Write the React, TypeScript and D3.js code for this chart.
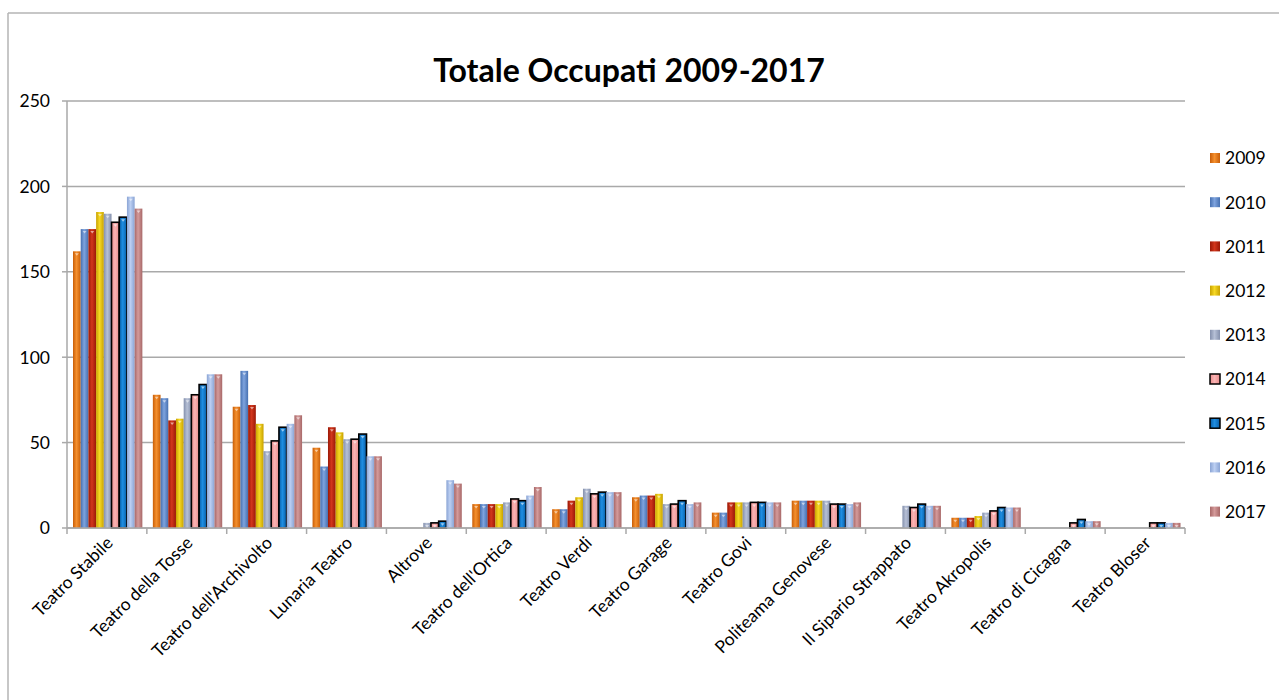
import React from "react";
import * as d3 from "d3";

const categories = [
  "Teatro Stabile",
  "Teatro della Tosse",
  "Teatro dell'Archivolto",
  "Lunaria Teatro",
  "Altrove",
  "Teatro dell'Ortica",
  "Teatro Verdi",
  "Teatro Garage",
  "Teatro Govi",
  "Politeama Genovese",
  "Il Sipario Strappato",
  "Teatro Akropolis",
  "Teatro di Cicagna",
  "Teatro Bloser",
];

const years = ["2009", "2010", "2011", "2012", "2013", "2014", "2015", "2016", "2017"];

const v2009 = [162, 78, 71, 47, 0, 14, 11, 18, 9, 16, 0, 6, 0, 0];
const v2010 = [175, 76, 92, 36, 0, 14, 11, 19, 9, 16, 0, 6, 0, 0];
const v2011 = [175, 63, 72, 59, 0, 14, 16, 19, 15, 16, 0, 6, 0, 0];
const v2012 = [185, 64, 61, 56, 0, 14, 18, 20, 15, 16, 0, 7, 0, 0];
const v2013 = [184, 76, 45, 52, 3, 15, 23, 14, 15, 16, 13, 9, 0, 0];
const v2014 = [179, 78, 51, 52, 3, 17, 20, 14, 15, 14, 12, 10, 3, 3];
const v2015 = [182, 84, 59, 55, 4, 16, 21, 16, 15, 14, 14, 12, 5, 3];
const v2016 = [194, 90, 61, 42, 28, 19, 21, 14, 15, 14, 13, 12, 4, 3];
const v2017 = [187, 90, 66, 42, 26, 24, 21, 15, 15, 15, 13, 12, 4, 3];

const seriesValues = [v2009, v2010, v2011, v2012, v2013, v2014, v2015, v2016, v2017];

const yTicks = [0, 50, 100, 150, 200, 250];

const fills = [
  ["#c85e08", "#f5902e"],
  ["#4670b0", "#7ea3de"],
  ["#9a1806", "#d2361c"],
  ["#c8a200", "#f6d824"],
  ["#8490ac", "#b6c0d6"],
  ["#e88c8c", "#fbb4b4"],
  ["#075ea8", "#1f8ee2"],
  ["#8aa4d4", "#bccff2"],
  ["#a86868", "#d49a9a"],
];
const outlined = [false, false, false, false, false, true, true, false, false];

const FONT = "Lato, 'Open Sans', sans-serif";

export default function App() {
  const W = 1279;
  const H = 700;
  const left = 67;
  const right = 1185;
  const top = 101;
  const bottom = 528;

  const x = d3.scaleBand<string>().domain(categories).range([left, right]).paddingInner(0).paddingOuter(0);
  const y = d3.scaleLinear().domain([0, 250]).range([bottom, top]);
  const bw = x.bandwidth();
  const inner = d3
    .scaleBand<string>()
    .domain(years)
    .range([6, bw - 4.5])
    .padding(0);
  const barW = inner.bandwidth();

  return (
    <svg
      width={W}
      height={H}
      style={{ position: "absolute", left: 0, top: 0, background: "#fff" }}
      fontFamily={FONT}
    >
      <defs>
        {fills.map((f, i) => (
          <linearGradient key={i} id={`g${i}`} x1="0" x2="1" y1="0" y2="0">
            <stop offset="0" stopColor={f[0]} />
            <stop offset="0.45" stopColor={f[1]} />
            <stop offset="1" stopColor={f[0]} />
          </linearGradient>
        ))}
      </defs>
      <rect x={0} y={0} width={W} height={H} fill="#fff" />
      {/* chart frame */}
      <line x1={8} x2={W} y1={13} y2={13} stroke="#b5b5b5" strokeWidth={1.5} />
      <line x1={8} x2={8} y1={13} y2={H} stroke="#b5b5b5" strokeWidth={1.5} />

      {/* title */}
      <text x={629} y={82} textAnchor="middle" fontSize={32} fontWeight={700} fill="#000">
        Totale Occupati 2009-2017
      </text>

      {/* gridlines */}
      {yTicks.map((t) => (
        <line key={t} x1={left} x2={right} y1={y(t)} y2={y(t)} stroke="#a9a9a9" strokeWidth={1.5} />
      ))}
      {/* y axis */}
      <line x1={left} x2={left} y1={top} y2={bottom} stroke="#a9a9a9" strokeWidth={1.5} />
      {yTicks.map((t) => (
        <g key={"yt" + t}>
          <line x1={left - 5} x2={left} y1={y(t)} y2={y(t)} stroke="#a9a9a9" strokeWidth={1.5} />
          <text x={50} y={y(t)} dy="0.36em" textAnchor="end" fontSize={17.5} fill="#000">
            {t}
          </text>
        </g>
      ))}

      {/* bars */}
      {categories.map((c, ci) => (
        <g key={c}>
          {years.map((yr, si) => {
            const v = seriesValues[si][ci];
            if (!v) return null;
            const bx = (x(c) as number) + (inner(yr) as number);
            const by = y(v);
            return (
              <g key={yr}>
                <rect
                  x={bx}
                  y={by}
                  width={barW}
                  height={bottom - by}
                  fill={`url(#g${si})`}
                  stroke={outlined[si] ? "#000" : "none"}
                  strokeWidth={outlined[si] ? 1.6 : 0}
                />
                {bottom - by > 5 && (
                  <path
                    d={`M${bx + barW / 2 - 2},${by + 2} L${bx + barW / 2 + 2},${by + 2} L${bx + barW / 2},${by + 4.5} Z`}
                    fill="#fff"
                    opacity={0.55}
                  />
                )}
              </g>
            );
          })}
        </g>
      ))}

      {/* x axis */}
      <line x1={left} x2={right} y1={bottom} y2={bottom} stroke="#a9a9a9" strokeWidth={1.5} />
      {d3.range(categories.length + 1).map((i) => {
        const tx = left + i * bw;
        return <line key={"xt" + i} x1={tx} x2={tx} y1={bottom} y2={bottom + 6} stroke="#a9a9a9" strokeWidth={1.5} />;
      })}
      {categories.map((c) => {
        const cx = (x(c) as number) + bw / 2 + 7;
        const cy = bottom + 16;
        return (
          <text
            key={"xl" + c}
            x={cx}
            y={cy}
            textAnchor="end"
            fontSize={17.5}
            fill="#000"
            transform={`rotate(-45 ${cx} ${cy})`}
          >
            {c}
          </text>
        );
      })}

      {/* legend */}
      {years.map((yr, i) => {
        const ly = 158 + i * 44.2;
        return (
          <g key={"lg" + yr}>
            <rect
              x={1210}
              y={ly - 5}
              width={10}
              height={10}
              fill={`url(#g${i})`}
              stroke={outlined[i] ? "#000" : "none"}
              strokeWidth={outlined[i] ? 1.5 : 0}
            />
            <text x={1225} y={ly} dy="0.36em" fontSize={17.5} fill="#000">
              {yr}
            </text>
          </g>
        );
      })}
    </svg>
  );
}
